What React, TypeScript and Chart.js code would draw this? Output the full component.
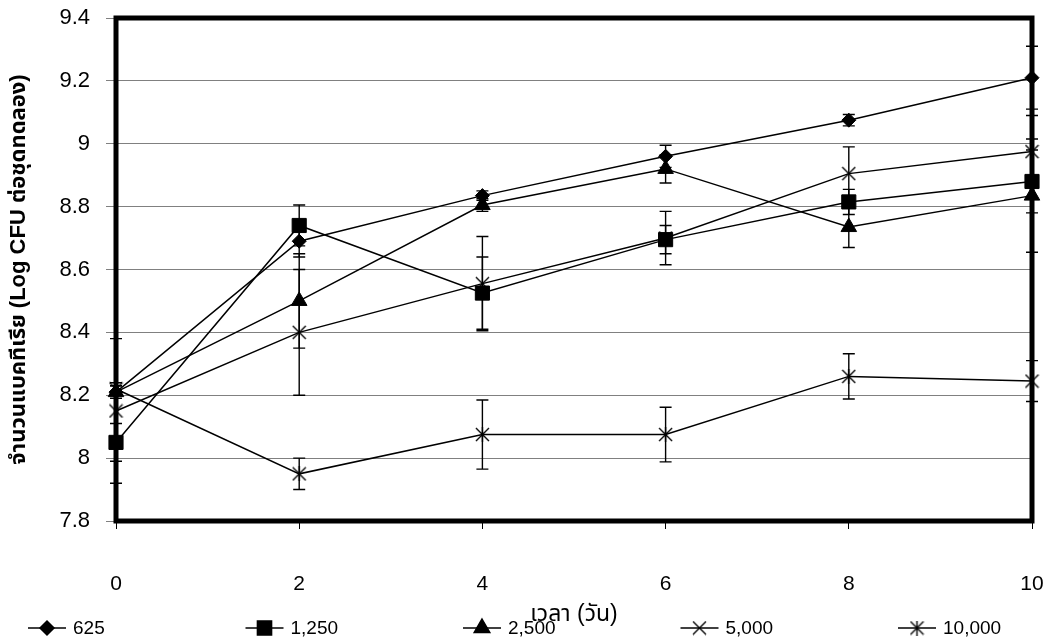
import React, { useEffect, useRef } from "react";
import { Chart, registerables } from "chart.js";
import { drawPoint } from "chart.js/helpers";

Chart.register(...registerables);

// ---- data ----
const days = ["0", "2", "4", "6", "8", "10"];
const seriesNames = ["625", "1,250", "2,500", "5,000", "10,000"];
const s625 = [8.21, 8.69, 8.835, 8.96, 9.075, 9.21];
const s1250 = [8.05, 8.74, 8.525, 8.695, 8.815, 8.88];
const s2500 = [8.21, 8.5, 8.805, 8.92, 8.735, 8.835];
const s5000 = [8.15, 8.4, 8.555, 8.7, 8.905, 8.975];
const s10000 = [8.22, 7.95, 8.075, 8.075, 8.26, 8.245];
const e625 = [0.02, 0.05, 0.015, 0.035, 0.018, 0.1];
const e1250 = [0.06, 0.065, 0.115, 0.045, 0.04, 0.1];
const e2500 = [0.02, 0.15, 0.02, 0.045, 0.065, 0.18];
const e5000 = [0.23, 0.2, 0.15, 0.085, 0.085, 0.115];
const e10000 = [0.02, 0.05, 0.11, 0.087, 0.072, 0.065];
const yTicks = [7.8, 8, 8.2, 8.4, 8.6, 8.8, 9, 9.2, 9.4];

const seriesValues = [s625, s1250, s2500, s5000, s10000];
const seriesErrors = [e625, e1250, e2500, e5000, e10000];

function makeAsterisk(size: number, lw: number): HTMLCanvasElement {
  const c = document.createElement("canvas");
  c.width = size;
  c.height = size;
  const ctx = c.getContext("2d")!;
  ctx.strokeStyle = "#000";
  ctx.lineWidth = lw;
  const m = size / 2;
  const r = size / 2 - 1;
  ctx.beginPath();
  ctx.moveTo(m - r, m - r);
  ctx.lineTo(m + r, m + r);
  ctx.moveTo(m + r, m - r);
  ctx.lineTo(m - r, m + r);
  ctx.moveTo(m, 0);
  ctx.lineTo(m, size);
  ctx.stroke();
  return c;
}

function makeX(size: number, lw: number): HTMLCanvasElement {
  const c = document.createElement("canvas");
  c.width = size;
  c.height = size;
  const ctx = c.getContext("2d")!;
  ctx.strokeStyle = "#000";
  ctx.lineWidth = lw;
  const m = size / 2;
  const r = size / 2 - 1;
  ctx.beginPath();
  ctx.moveTo(m - r, m - r);
  ctx.lineTo(m + r, m + r);
  ctx.moveTo(m + r, m - r);
  ctx.lineTo(m - r, m + r);
  ctx.stroke();
  return c;
}

export default function App() {
  const ref = useRef<HTMLCanvasElement | null>(null);
  useEffect(() => {
    if (!ref.current) return;
    const asterisk = makeAsterisk(15, 1.4);
    const xMark = makeX(15, 1.4);
    const styles: any[] = ["rectRot", "rect", "triangle", xMark, asterisk];
    const radii = [7, 10, 9, 7, 7];

    const errorBars = {
      id: "errorBars",
      beforeDatasetsDraw(chart: any) {
        const { ctx, chartArea } = chart;
        const xs = chart.scales.x;
        const ys = chart.scales.y;
        ctx.save();
        ctx.strokeStyle = "#000";
        ctx.lineWidth = 1.4;
        seriesValues.forEach((vals, i) => {
          vals.forEach((v, j) => {
            const e = seriesErrors[i][j];
            const x = xs.getPixelForValue(j);
            const t = ys.getPixelForValue(v + e);
            const b = ys.getPixelForValue(v - e);
            ctx.beginPath();
            ctx.moveTo(x, t);
            ctx.lineTo(x, b);
            ctx.moveTo(x - 6, t);
            ctx.lineTo(x + 6, t);
            ctx.moveTo(x - 6, b);
            ctx.lineTo(x + 6, b);
            ctx.stroke();
          });
        });
        ctx.lineWidth = 5;
        ctx.strokeRect(
          chartArea.left,
          chartArea.top,
          chartArea.right - chartArea.left,
          chartArea.bottom - chartArea.top
        );
        ctx.restore();
      },
    };

    const legendPlugin = {
      id: "customLegend",
      afterDraw(chart: any) {
        const { ctx } = chart;
        const y = 628;
        ctx.save();
        seriesNames.forEach((name, i) => {
          const x0 = 28 + i * 217.5;
          ctx.strokeStyle = "#000";
          ctx.fillStyle = "#000";
          ctx.lineWidth = 1.5;
          ctx.beginPath();
          ctx.moveTo(x0, y);
          ctx.lineTo(x0 + 38, y);
          ctx.stroke();
          drawPoint(
            ctx,
            { pointStyle: styles[i], radius: radii[i], rotation: 0, borderWidth: 1 } as any,
            x0 + 19,
            y
          );
          ctx.fillStyle = "#000";
          ctx.font = "19px 'Liberation Sans Narrow', 'Liberation Sans', sans-serif";
          ctx.textBaseline = "middle";
          ctx.textAlign = "left";
          ctx.fillText(name, x0 + 45, y + 1);
        });
        ctx.restore();
      },
    };

    const chart = new Chart(ref.current, {
      type: "line",
      data: {
        labels: days,
        datasets: seriesValues.map((vals, i) => ({
          label: seriesNames[i],
          data: vals,
          borderColor: "#000",
          backgroundColor: "#000",
          borderWidth: 1.5,
          pointStyle: styles[i],
          pointRadius: radii[i],
          pointBorderWidth: 1,
          pointBackgroundColor: "#000",
          pointBorderColor: "#000",
          tension: 0,
          clip: false as any,
        })),
      },
      options: {
        animation: false,
        responsive: true,
        maintainAspectRatio: false,
        layout: { padding: { left: 0, right: 15, top: 18, bottom: 0 } },
        plugins: {
          legend: { display: false },
          tooltip: { enabled: false },
        },
        scales: {
          x: {
            type: "category",
            offset: false,
            grid: {
              display: true,
              drawOnChartArea: false,
              drawTicks: true,
              tickLength: 8,
              tickColor: "#000",
            },
            border: { display: false },
            ticks: {
              color: "#000",
              padding: 43,
              maxRotation: 0,
              autoSkip: false,
              font: { family: "'Liberation Sans', Arial, sans-serif", size: 21 },
            },
            title: {
              display: true,
              text: "เวลา (วัน)",
              color: "#000",
              font: { family: "'Liberation Sans', 'Noto Sans Thai', 'Noto Sans', sans-serif", size: 23 },
              padding: { top: 0, bottom: 9 },
            },
            afterFit(scale: any) {
              scale.height = 116;
              scale.paddingLeft = 0;
              scale.paddingRight = 0;
            },
          },
          y: {
            type: "linear",
            min: 7.8,
            max: 9.4,
            afterBuildTicks(scale: any) {
              scale.ticks = yTicks.map((v) => ({ value: v }));
            },
            grid: {
              color: "#808080",
              lineWidth: 1,
              tickLength: 10,
              tickColor: "#808080",
            },
            border: { display: false },
            ticks: {
              color: "#000",
              padding: 16,
              font: { family: "'Liberation Sans', Arial, sans-serif", size: 22 },
              callback: (v: any) => String(Math.round(Number(v) * 10) / 10),
            },
            title: {
              display: true,
              text: "จำนวนแบคทีเรีย (Log CFU ต่อชุดทดลอง)",
              color: "#000",
              font: { family: "'Liberation Sans', 'Noto Sans Thai', 'Noto Sans', sans-serif", size: 22, weight: "bold" },
              padding: { top: 6, bottom: 0 },
            },
            afterFit(scale: any) {
              scale.width = 116;
              scale.paddingTop = 0;
              scale.paddingBottom = 0;
            },
          },
        },
      },
      plugins: [errorBars, legendPlugin],
    });
    return () => chart.destroy();
  }, []);

  return (
    <div style={{ position: "fixed", left: 0, top: 0, width: 1047, height: 637, background: "#fff" }}>
      <canvas ref={ref} />
    </div>
  );
}
